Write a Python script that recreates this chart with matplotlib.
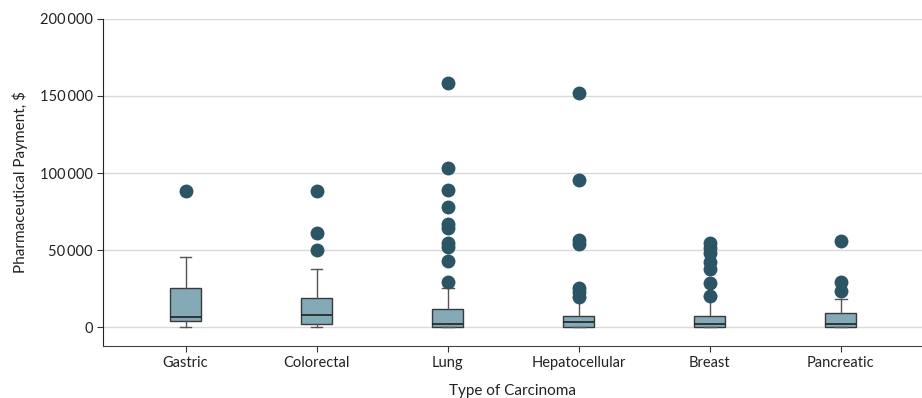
import numpy as np
import matplotlib.pyplot as plt
from matplotlib.ticker import FuncFormatter

plt.rcParams['font.family'] = ['Lato', 'DejaVu Sans']

# box statistics (US $)
categories = ['Gastric', 'Colorectal', 'Lung', 'Hepatocellular', 'Breast', 'Pancreatic']
whislo = [0, 0, 0, 0, 0, 0]
q1 = [3700, 2100, 200, 0, 0, 0]
med = [6500, 7600, 2000, 3000, 2200, 2100]
q3 = [25300, 18600, 11500, 7400, 7400, 8900]
whishi = [45600, 37400, 25500, 19300, 20100, 18400]
fliers = [
    [88300],
    [88300, 60800, 49800],
    [158600, 103200, 89100, 78100, 66600, 64500, 54500, 52100, 42600, 29200],
    [151700, 95200, 56500, 53700, 25500, 22500, 19300],
    [54300, 51100, 47800, 42400, 37400, 28800, 20100],
    [55800, 29200, 23400],
]

stats = []
for i, name in enumerate(categories):
    stats.append(dict(label=name, whislo=whislo[i], q1=q1[i], med=med[i],
                      q3=q3[i], whishi=whishi[i], fliers=fliers[i]))

fig = plt.figure(figsize=(9.22, 3.98), dpi=100)
ax = fig.add_axes([0.1117, 0.1307, 0.8883, 0.8216])

ax.yaxis.grid(True, color='#d9d9d9', linewidth=1.0)
ax.set_axisbelow(True)

ax.bxp(stats, positions=range(len(categories)), widths=0.24, capwidths=0.09,
       patch_artist=True,
       boxprops=dict(facecolor='#84a9b7', edgecolor='#3a3a3a', linewidth=1.0),
       medianprops=dict(color='#222222', linewidth=1.2),
       whiskerprops=dict(color='#555555', linewidth=1.0),
       capprops=dict(color='#555555', linewidth=1.0),
       flierprops=dict(marker='o', markersize=9, markerfacecolor='#2b5565',
                       markeredgecolor='#2b5565', linestyle='none'))

ax.set_xlim(-0.63, 5.62)
ax.set_ylim(-12300, 200000)
ax.set_yticks([0, 50000, 100000, 150000, 200000])
ax.yaxis.set_major_formatter(FuncFormatter(lambda v, p: f'{int(v):,}'.replace(',', '\u2009')))

for s in ['top', 'right']:
    ax.spines[s].set_visible(False)
ax.spines['left'].set_color('#222222')
ax.spines['bottom'].set_color('#444444')
ax.tick_params(axis='both', labelsize=10.5, colors='#333333', length=4, labelcolor='#222222')

ax.set_xlabel('Type of Carcinoma', fontsize=11, color='#222222', labelpad=10)
ax.set_ylabel('Pharmaceutical Payment, $', fontsize=11, color='#222222', labelpad=8)

fig.savefig('out.png', dpi=100)
